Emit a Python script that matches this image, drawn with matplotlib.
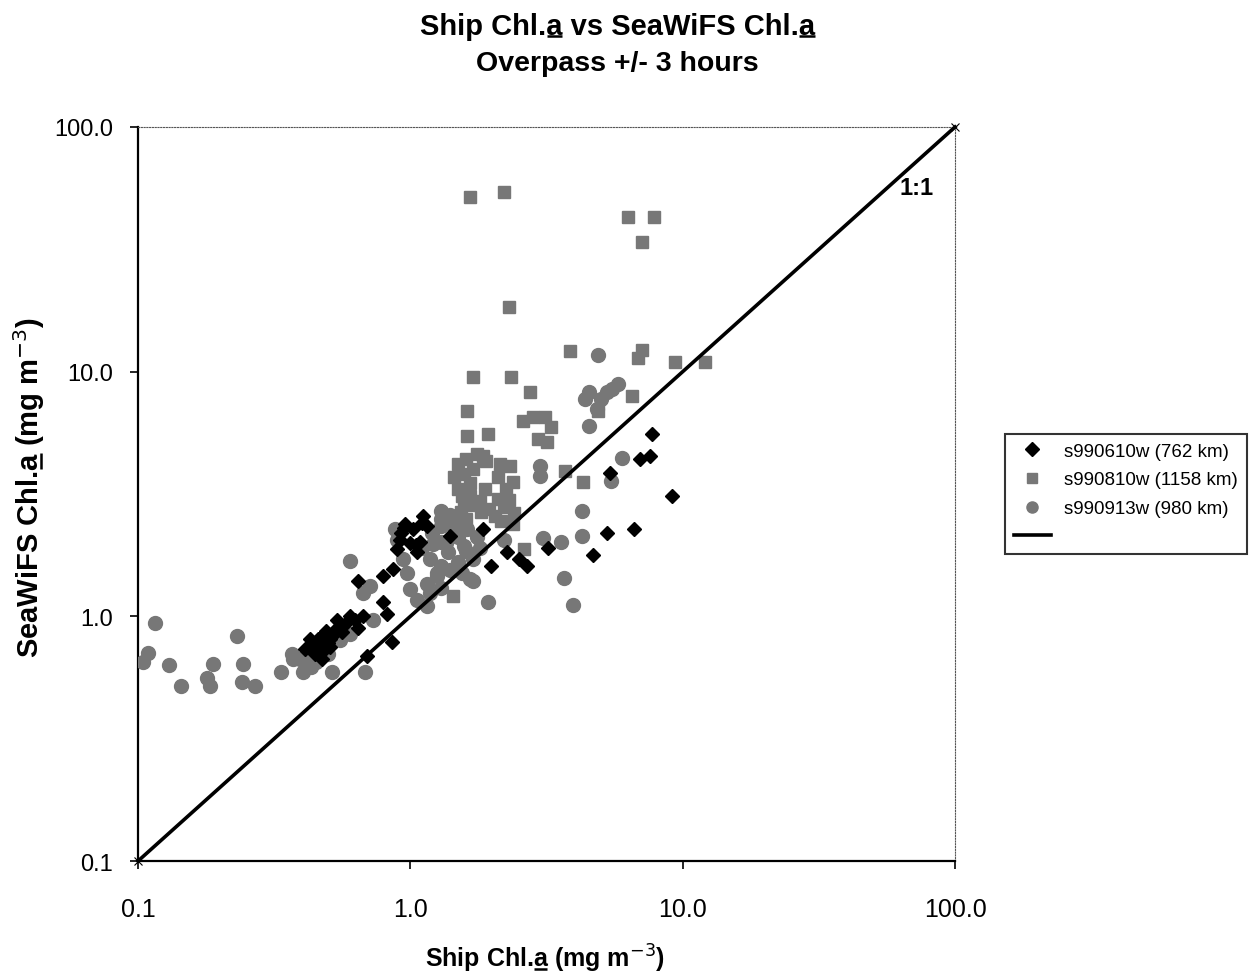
import matplotlib
matplotlib.use("Agg")
import matplotlib.pyplot as plt
from matplotlib.lines import Line2D
from matplotlib.transforms import IdentityTransform

plt.rcParams['font.family'] = ['Liberation Sans', 'DejaVu Sans']

# ---------------- data ----------------
s1_ship = [0.411, 0.436, 0.459, 0.475, 0.492, 0.508, 0.531, 0.553, 0.577, 0.628,
           0.644, 0.448, 0.475, 0.508, 0.672, 0.429, 0.539, 0.602, 0.487,
           0.52, 0.56, 0.46, 0.50, 0.44,
           0.644, 0.796, 0.79, 0.824, 0.859, 0.695, 0.896, 0.866, 0.919, 1.026,
           1.061, 1.088, 1.116, 0.959, 1.154, 0.95, 1.0, 1.10, 0.92, 1.05,
           1.40, 1.854, 1.98, 2.27, 2.50,
           2.69, 3.21, 4.70, 5.29, 6.65, 9.17, 5.42, 6.99, 7.61, 7.74]
s1_sat = [0.733, 0.769, 0.805, 0.828, 0.868, 0.805, 0.885, 0.91, 0.93, 0.97,
          0.90, 0.70, 0.667, 0.747, 1.0, 0.805, 0.97, 1.0, 0.733,
          0.84, 0.86, 0.76, 0.78, 0.72,
          1.39, 1.46, 1.14, 1.02, 0.783, 0.687, 1.88, 1.56, 2.06, 2.27,
          1.83, 2.01, 2.56, 2.38, 2.33, 2.30, 2.00, 2.40, 2.20, 1.95,
          2.12, 2.27, 1.60, 1.83, 1.71,
          1.60, 1.91, 1.78, 2.20, 2.27, 3.09, 3.84, 4.38, 4.51, 5.54]

s2_ship = [1.66, 2.20, 6.27, 7.87, 7.11, 2.30, 3.87, 7.11, 6.88, 9.40, 12.1,
           1.70, 2.35, 2.76, 1.61, 1.62, 1.92, 6.54, 2.60, 2.83, 3.13, 3.27,
           2.93, 3.17, 4.90, 4.32, 3.71, 2.62, 2.39, 1.85, 1.43,
           1.44, 1.57, 1.70, 2.14, 2.33, 2.39, 2.09, 1.49, 1.66, 1.57, 2.09,
           2.20, 2.05, 1.81, 1.53, 1.885,
           1.50, 1.60, 1.75, 1.90, 2.25, 1.65, 1.80, 2.30, 1.55, 1.70, 1.45,
           1.60, 2.15, 1.95, 2.40]
s2_sat = [51.5, 54.0, 42.7, 42.7, 33.8, 18.3, 12.1, 12.3, 11.4, 10.9, 10.9,
          9.48, 9.48, 8.23, 6.89, 5.44, 5.54, 7.93, 6.27, 6.50, 6.50, 5.92,
          5.29, 5.14, 6.89, 3.53, 3.92, 1.88, 2.38, 4.51, 1.21,
          3.70, 3.80, 3.99, 4.18, 4.10, 3.53, 3.70, 3.30, 3.09, 2.87, 3.01,
          2.79, 2.56, 2.66, 2.66, 3.30,
          4.20, 4.40, 4.60, 4.30, 3.30, 3.50, 2.95, 3.00, 3.10, 2.85, 2.30,
          2.50, 2.45, 2.75, 2.65]

s3_ship = [1.29, 1.44, 1.62, 1.29, 1.37, 1.57, 1.29, 1.49, 1.70, 1.66, 1.18,
           2.20, 1.70, 1.92, 1.18, 1.21, 1.256, 1.29,
           1.10, 1.20, 1.35, 1.50, 1.25, 1.40, 1.55, 1.15, 1.30, 1.60, 1.80,
           1.75, 1.40, 1.30,
           0.896, 0.942, 0.975, 1.0, 1.061, 1.154, 0.672, 0.713, 0.731, 0.684,
           0.60, 0.88,
           4.90, 5.81, 4.51, 4.39, 4.99, 5.29, 5.52, 4.51, 4.86, 5.96, 5.47,
           4.25, 4.25, 3.06, 3.56, 3.65, 3.97, 3.00, 3.00,
           0.115, 0.109, 0.104, 0.130, 0.144, 0.179, 0.184, 0.188, 0.231,
           0.243, 0.241, 0.269, 0.335, 0.369, 0.37, 0.405, 0.45, 0.517,
           0.394, 0.43, 0.45, 0.50, 0.42, 0.55, 0.60]
s3_sat = [2.33, 2.42, 2.27, 2.01, 1.83, 1.93, 1.60, 1.66, 1.71, 1.42, 1.25,
          2.06, 1.39, 1.14, 1.71, 1.97, 1.46, 2.49,
          1.90, 2.20, 2.00, 2.10, 1.50, 1.55, 1.50, 1.35, 1.30, 1.85, 1.90,
          2.10, 2.60, 2.70,
          2.06, 1.71, 1.51, 1.29, 1.17, 1.10, 1.25, 1.33, 0.97, 0.59,
          1.69, 2.27,
          11.7, 8.87, 8.23, 7.70, 7.70, 8.23, 8.47, 5.97, 7.01, 4.42, 3.56,
          2.69, 2.12, 2.08, 2.01, 1.43, 1.11, 4.10, 3.73,
          0.94, 0.71, 0.65, 0.63, 0.52, 0.56, 0.52, 0.64, 0.83,
          0.64, 0.54, 0.52, 0.59, 0.70, 0.67, 0.59, 0.65, 0.59,
          0.667, 0.62, 0.72, 0.70, 0.66, 0.80, 0.85]

one_to_one = [0.1, 100.0]

labels = ['s990610w (762 km)', 's990810w (1158 km)', 's990913w (980 km)']
tick_vals = [0.1, 1.0, 10.0, 100.0]
tick_labels = ['0.1', '1.0', '10.0', '100.0']

GRAY = '#777777'
NARROW = ['Liberation Sans Narrow', 'Liberation Sans', 'DejaVu Sans']

fig = plt.figure(figsize=(12.55, 9.79), dpi=100)
ax = fig.add_axes([0.110, 0.1195, 0.651, 0.7498])
ax.set_xscale('log')
ax.set_yscale('log')
ax.set_xlim(0.1, 100)
ax.set_ylim(0.1, 100)

ax.plot(s3_ship, s3_sat, linestyle='none', marker='o', ms=10, mfc=GRAY,
        mec=GRAY, zorder=3)
ax.plot(s2_ship, s2_sat, linestyle='none', marker='s', ms=9, mfc=GRAY,
        mec=GRAY, zorder=3)
ax.plot(s1_ship, s1_sat, linestyle='none', marker='D', ms=7.5, mfc='black',
        mec='black', zorder=4)
ax.plot(one_to_one, one_to_one, color='black', lw=2.6, marker='x', ms=6,
        mew=0.8, zorder=5, clip_on=False)

ax.text(0.953, 0.918, '1:1', transform=ax.transAxes, fontsize=17,
        fontweight='bold', ha='center', va='center', family=NARROW)

# spines
for s in ['top', 'right']:
    ax.spines[s].set_linestyle((0, (1, 1.5)))
    ax.spines[s].set_color('#555555')
    ax.spines[s].set_linewidth(0.8)
for s in ['left', 'bottom']:
    ax.spines[s].set_linewidth(1.6)
    ax.spines[s].set_color('black')

ax.set_xticks(tick_vals)
ax.set_xticklabels(tick_labels)
ax.set_yticks(tick_vals)
ax.set_yticklabels(tick_labels)
ax.minorticks_off()
ax.tick_params(axis='both', direction='out', length=6, width=1.2,
               labelsize=17, colors='black')
ax.tick_params(axis='x', pad=20)
ax.tick_params(axis='y', pad=12)
for lab in ax.get_xticklabels():
    lab.set_family(NARROW)
    lab.set_fontsize(18)

xl = ax.set_xlabel('Ship Chl.a (mg m$^{-3}$)', fontsize=18, fontweight='bold',
                   family=NARROW)
ax.xaxis.set_label_coords(0.498, -0.110)
yl = ax.set_ylabel('SeaWiFS Chl.a (mg m$^{-3}$)', fontsize=21, fontweight='bold',
                   family=['Liberation Sans', 'DejaVu Sans'])
ax.yaxis.set_label_coords(-0.112, 0.51)

t1 = fig.text(0.492, 0.987, 'Ship Chl.a vs SeaWiFS Chl.a', ha='center', va='top',
              fontsize=21, fontweight='bold', family=NARROW)
t2 = fig.text(0.492, 0.948, 'Overpass +/- 3 hours', ha='center', va='top',
              fontsize=20.5, fontweight='bold', family=NARROW)

handles = [
    Line2D([], [], linestyle='none', marker='D', ms=7, mfc='black', mec='black'),
    Line2D([], [], linestyle='none', marker='s', ms=7, mfc=GRAY, mec=GRAY),
    Line2D([], [], linestyle='none', marker='o', ms=8, mfc=GRAY, mec=GRAY),
    Line2D([], [], color='black', lw=2.6),
]
leg = fig.legend(handles, labels + [' '], loc='upper left',
                 bbox_to_anchor=(0.801, 0.5556), frameon=True, fancybox=False,
                 edgecolor='black', fontsize=13.5, handlelength=2.0,
                 borderpad=0.45, labelspacing=0.62, handletextpad=0.7,
                 borderaxespad=0)
leg.get_frame().set_linewidth(1.5)


# ---- underline the "a" of "Chl.a" in the title and axis labels ----
def underline(txt, part, occurrence_prefixes, rotated=False, lw=1.8):
    r = fig.canvas.get_renderer()
    prop = txt.get_fontproperties()
    full = txt.get_text()
    bb = txt.get_window_extent(r)
    _, _, d_full = r.get_text_width_height_descent(full, prop, ismath=('$' in full))
    _, _, d_lp = r.get_text_width_height_descent('lp', prop, ismath=False)
    d = max(d_full, d_lp)
    for pre in occurrence_prefixes:
        w0, _, _ = r.get_text_width_height_descent(pre, prop, ismath=False)
        w1, _, _ = r.get_text_width_height_descent(pre + part, prop, ismath=False)
        if not rotated:
            y = bb.y0 + d - 0.35 * d
            xs = [bb.x0 + w0 + 0.5, bb.x0 + w1]
            ys = [y, y]
        else:
            x = bb.x1 - d + 0.35 * d
            xs = [x, x]
            ys = [bb.y0 + w0 + 0.5, bb.y0 + w1]
        fig.add_artist(Line2D(xs, ys, transform=IdentityTransform(),
                              color='black', lw=lw, solid_capstyle='butt'))


fig.canvas.draw()
underline(t1, 'a', ['Ship Chl.', 'Ship Chl.a vs SeaWiFS Chl.'])
underline(xl, 'a', ['Ship Chl.'])
underline(yl, 'a', ['SeaWiFS Chl.'], rotated=True)

fig.savefig('out.png', dpi=100)
